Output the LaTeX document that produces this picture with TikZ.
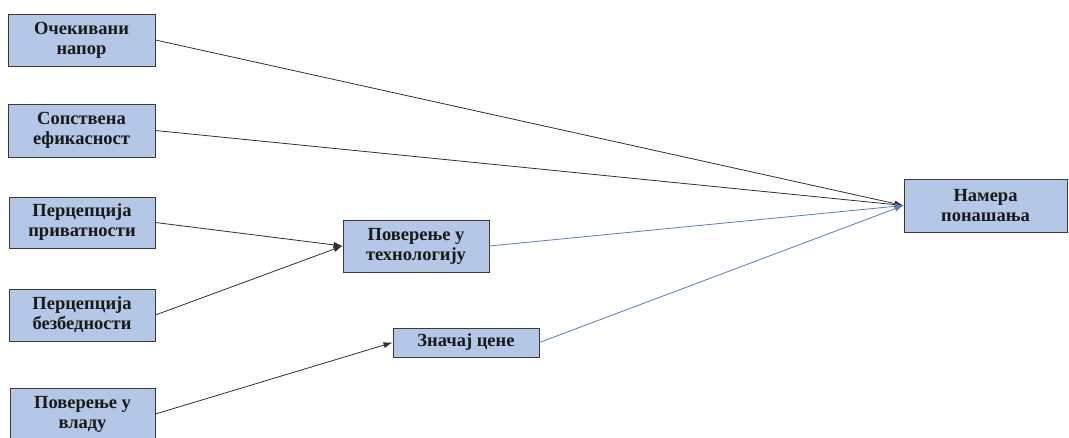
\documentclass[tikz,border=0pt]{standalone}
\usepackage{fontspec}
\setmainfont{Liberation Serif}
\usetikzlibrary{arrows.meta}
\definecolor{boxfill}{HTML}{B4C7E7}
\definecolor{boxline}{HTML}{3A3A3A}
\definecolor{blueline}{HTML}{5B7DB1}
\definecolor{darkline}{HTML}{303030}
\begin{document}
\begin{tikzpicture}[x=1pt,y=-1pt,
  box/.style={draw=boxline,line width=0.9pt,fill=boxfill,align=center,inner sep=2pt,
    font=\fontsize{18.5}{20}\selectfont\bfseries,text=black!90},
  darkarrow/.style={draw=darkline,line width=0.8pt,-{Latex[length=9pt,width=6pt]}},
  bluearrow/.style={draw=blueline,line width=0.8pt,-{Latex[length=9pt,width=6pt]}}]
\useasboundingbox (0,0) rectangle (1069,438);
\node[box,minimum width=147pt,minimum height=52pt] (a) at (81.5,40) {Очекивани\\напор};
\node[box,minimum width=147pt,minimum height=53pt] (b) at (81.5,130.5) {Сопствена\\ефикасност};
\node[box,minimum width=146pt,minimum height=51pt] (c) at (82,222.5) {Перцепција\\приватности};
\node[box,minimum width=146pt,minimum height=52pt] (d) at (82,315) {Перцепција\\безбедности};
\node[box,minimum width=145pt,minimum height=52pt] (e) at (82.5,414) {Поверење у\\владу};
\node[box,minimum width=146pt,minimum height=52pt] (f) at (416,246) {Поверење у\\технологију};
\node[box,minimum width=146pt,minimum height=29pt] (g) at (466,342.5) {Значај цене};
\node[box,minimum width=163pt,minimum height=53pt] (h) at (985.5,205.5) {Намера\\понашања};
\draw[darkarrow] (a.east) -- (h.west);
\draw[darkarrow] (b.east) -- (h.west);
\draw[darkarrow] (c.east) -- (f.west);
\draw[darkarrow] (d.east) -- (f.west);
\draw[darkarrow] (e.east) -- (g.west);
\draw[bluearrow] (f.east) -- (h.west);
\draw[bluearrow] (g.east) -- (h.west);
\end{tikzpicture}
\end{document}
